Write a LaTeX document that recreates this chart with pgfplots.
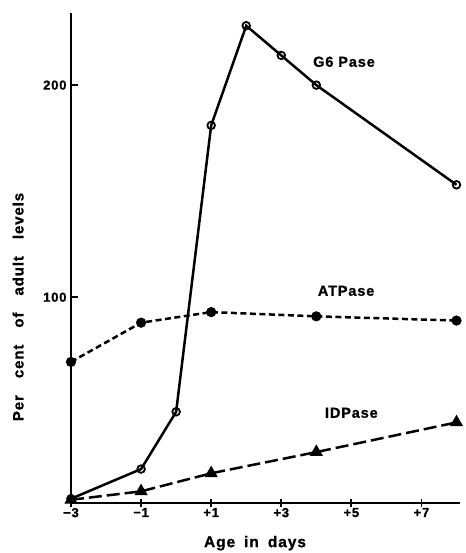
\documentclass[border=0pt]{standalone}
\usepackage{fontspec}
\setmainfont{Liberation Sans}
\usepackage{pgfplots}
\pgfplotsset{compat=1.18}
\newfontfamily\lbl{Liberation Sans}[LetterSpace=6, BoldFeatures={FakeBold=1}]

\begin{document}
\begin{tikzpicture}
\begin{axis}[
    scale only axis,
    width=389pt, height=490pt,
    xmin=-3, xmax=8.1,
    ymin=3, ymax=234,
    axis x line=bottom, axis y line=left,
    axis line style={-, line width=2.4pt},
    xtick={-3,-1,1,3,5,7},
    xticklabels={−3,−1,+1,+3,+5,+7},
    ytick={100,200},
    yticklabels={100,200},
    xtick align=center, ytick align=inside,
    major tick length=7pt,
    major tick style={line width=1.8pt, black},
    tick label style={font=\lbl\bfseries\fontsize{13}{13}\selectfont},
    yticklabel style={xshift=-1pt},
    xticklabel style={yshift=2pt},
    clip=false,
]
% G6Pase
\addplot[black, line width=2.5pt, mark=o, mark size=3.8pt,
    mark options={fill=white, line width=1.8pt}] coordinates {
    (-3,5) (-1,19) (0,46) (1,181) (2,228) (3,214) (4,200) (8,153)
};
% ATPase
\addplot[black, line width=2.5pt, dash pattern=on 6pt off 3.5pt,
    mark=*, mark size=3.8pt, mark options={solid}] coordinates {
    (-3,69.5) (-1,88) (1,93) (4,91) (8,89)
};
% IDPase
\addplot[black, line width=2.5pt, dash pattern=on 13pt off 5pt,
    mark=triangle*, mark size=5.2pt, mark options={solid}] coordinates {
    (-3,4.5) (-1,8.5) (1,17) (4,27) (8,41)
};

\node[font=\lbl\bfseries\fontsize{14.5}{14.5}\selectfont] at (axis cs:4.79,211) {G6 Pase};
\node[font=\lbl\bfseries\fontsize{14.5}{14.5}\selectfont] at (axis cs:4.85,103) {ATPase};
\node[font=\lbl\bfseries\fontsize{14.5}{14.5}\selectfont] at (axis cs:5.0,45.5) {IDPase};

\node[font=\lbl\bfseries\fontsize{15}{15}\selectfont, rotate=90]
    at (rel axis cs:-0.136,0.40) {Per\hspace{17pt}cent\hspace{17pt}of\hspace{17pt}adult\hspace{17pt}levels};
\node[font=\lbl\bfseries\fontsize{15.5}{15.5}\selectfont]
    at (rel axis cs:0.473,-0.082) {Age\hspace{9pt}in\hspace{9pt}days};

\path (rel axis cs:0,0) ++(-71pt,-50pt) coordinate (bl);
\path (rel axis cs:1,1) ++(5pt,13pt) coordinate (tr);
\end{axis}
\pgfresetboundingbox
\path (bl) rectangle (tr);
\end{tikzpicture}
\end{document}
